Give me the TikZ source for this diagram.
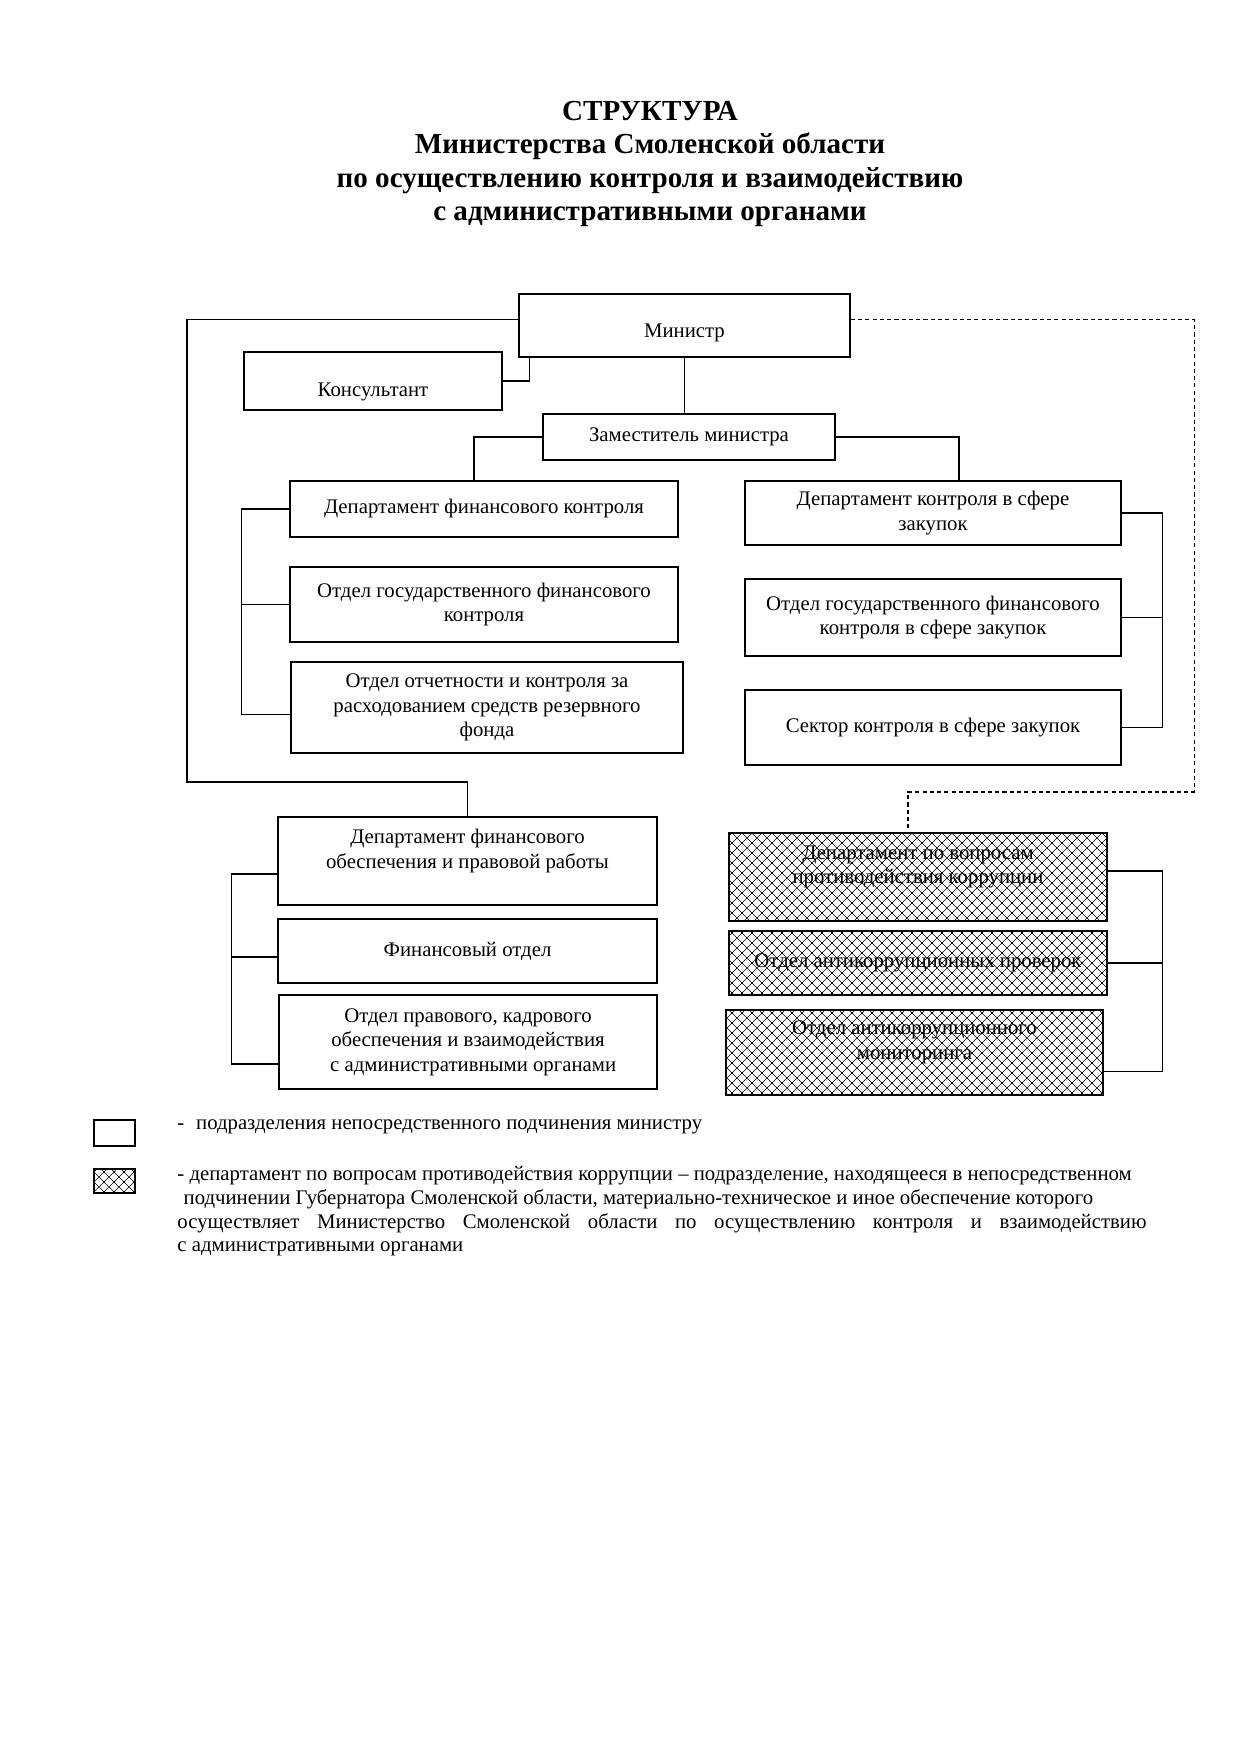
\documentclass[tikz,border=0pt]{standalone}
\usepackage{fontspec}
\setmainfont{Liberation Serif}
\usetikzlibrary{calc,patterns}

\pgfdeclarepatternformonly{diamondnet}{\pgfpointorigin}{\pgfpoint{4.8pt}{4.8pt}}{\pgfpoint{4.8pt}{4.8pt}}{%
  \pgfsetlinewidth{0.3pt}
  \pgfpathmoveto{\pgfpointorigin}\pgfpathlineto{\pgfpoint{4.8pt}{4.8pt}}
  \pgfpathmoveto{\pgfpoint{0pt}{4.8pt}}\pgfpathlineto{\pgfpoint{4.8pt}{0pt}}
  \pgfusepath{stroke}
  \pgfpathrectangle{\pgfpoint{1.95pt}{1.95pt}}{\pgfpoint{0.9pt}{0.9pt}}
  \pgfusepath{fill}
}

\tikzset{
  wire/.style       = {line width=0.5pt},
  dashedwire/.style = {line width=0.5pt, dash pattern=on 2pt off 1.5pt},
  boxsize/.style 2 args = {minimum width=#1*0.16922mm, minimum height=#2*0.16922mm},
  box/.style        = {draw, line width=0.7pt, inner sep=0pt, align=center,
                       font=\fontsize{10}{11.8}\selectfont},
  hatchbox/.style   = {box, pattern=diamondnet},
  title/.style      = {align=center, font=\fontsize{14}{16.1}\selectfont\bfseries},
  legendtext/.style = {inner sep=0pt, font=\fontsize{10}{11.4}\selectfont},
}

\begin{document}
\begin{tikzpicture}[x=0.16922mm, y=-0.16922mm]
  \useasboundingbox (0,0) rectangle (1241,1755);

  \node[title] (ttl) at (650,164)
    {СТРУКТУРА\\Министерства Смоленской области\\по осуществлению контроля и взаимодействию\\с административными органами};

  % top of the chart
  \node[box, boxsize={331}{63}] (min) at (684.5,325.5) {\raisebox{-2.5pt}[7pt][0pt]{Министр}};
  \node[box, boxsize={258}{58}] (kons) at (373,381) {\raisebox{-4pt}[7pt][0pt]{Консультант}};
  \node[box, boxsize={292}{46}] (zam) at (689,437) {Заместитель министра};

  % left column
  \node[box, boxsize={388}{56}] (dfk) at (484,509) {Департамент финансового контроля};
  \node[box, boxsize={388}{75}] (ogfk) at (484,604.5) {Отдел государственного финансового\\контроля};
  \node[box, boxsize={392}{91}] (ootch) at (487,707.5) {Отдел отчетности и контроля за\\расходованием средств резервного\\фонда};

  % right column
  \node[box, boxsize={376}{64}] (dkz) at (933,513) {Департамент контроля в сфере\\закупок};
  \node[box, boxsize={376}{77}] (ogfkz) at (933,617.5) {Отдел государственного финансового\\контроля в сфере закупок};
  \node[box, boxsize={376}{75}] (sek) at (933,727.5) {Сектор контроля в сфере закупок};

  % lower left
  \node[box, boxsize={379}{88}] (dfo) at (467.5,861) {Департамент финансового\\обеспечения и правовой работы\\\mbox{}};
  \node[box, boxsize={379}{64}] (fin) at (467.5,951) {Финансовый отдел};
  \node[box, boxsize={378}{94}] (opr) at (468,1042) {Отдел правового, кадрового\\обеспечения и взаимодействия\\\hspace*{5pt}с административными органами};

  % lower right, hatched
  \node[hatchbox, boxsize={378}{88}] (dpk) at (918,877) {Департамент по вопросам\\противодействия коррупции\\\mbox{}};
  \node[hatchbox, boxsize={378}{64}] (oap) at (918,963) {Отдел антикоррупционных проверок};
  \node[hatchbox, boxsize={377}{85}] (oam) at (914.5,1052.5) {Отдел антикоррупционного\\мониторинга\\\mbox{}};

  \coordinate (lc) at (187,782);
  \coordinate (rc) at (1194,792);

  % connectors
  \draw[wire] ($(min.south west)+(11,0)$) |- (kons.east);
  \draw[wire] (min.south) -- (min.south |- zam.north);
  \draw[wire] (zam.west) -| ($(dfk.north)+(-10,0)$);
  \draw[wire] (zam.east) -| ($(dkz.north)+(26,0)$);

  \draw[wire] (dfk.west) -- ++(-48,0) |- ($(ootch.west)+(0,7)$);
  \draw[wire] (ogfk.west) -- ++(-48,0);
  \draw[wire] (dkz.east) -- ++(41,0) |- (sek.east);
  \draw[wire] (ogfkz.east) -- ++(41,0);

  \draw[wire] ($(min.west)+(0,-6)$) -| (lc) -| (dfo.north);
  \draw[wire] ($(dfo.west)+(0,13)$) -- ++(-46,0) |- ($(opr.west)+(0,22)$);
  \draw[wire] ($(fin.west)+(0,6)$) -- ++(-46,0);

  \draw[dashedwire] ($(min.east)+(0,-6)$) -| (rc) -| ($(dpk.north)+(-10,0)$);
  \draw[wire] ($(dpk.east)+(0,-6)$) -- ++(55,0) |- ($(oam.east)+(0,19)$);
  \draw[wire] (oap.east) -- ++(55,0);

  % legend
  \node[box, boxsize={41}{26}] (lg1) at (114.5,1133) {};
  \node[hatchbox, boxsize={41}{24}] (lg2) at (114.5,1181) {};
  \node[legendtext, anchor=west] (lt1) at (177,1127)
    {-\hspace{2mm}подразделения непосредственного подчинения министру};
  \node[legendtext, anchor=north west, text width=164mm, align=justify] (lt2) at (177,1166)
    {- департамент по вопросам противодействия коррупции – подразделение, находящееся в непосредственном\\
     \hspace*{3pt}подчинении Губернатора Смоленской области, материально-техническое и иное обеспечение которого\\
     осуществляет Министерство Смоленской области по осуществлению контроля и взаимодействию\linebreak
     с административными органами};
\end{tikzpicture}
\end{document}
